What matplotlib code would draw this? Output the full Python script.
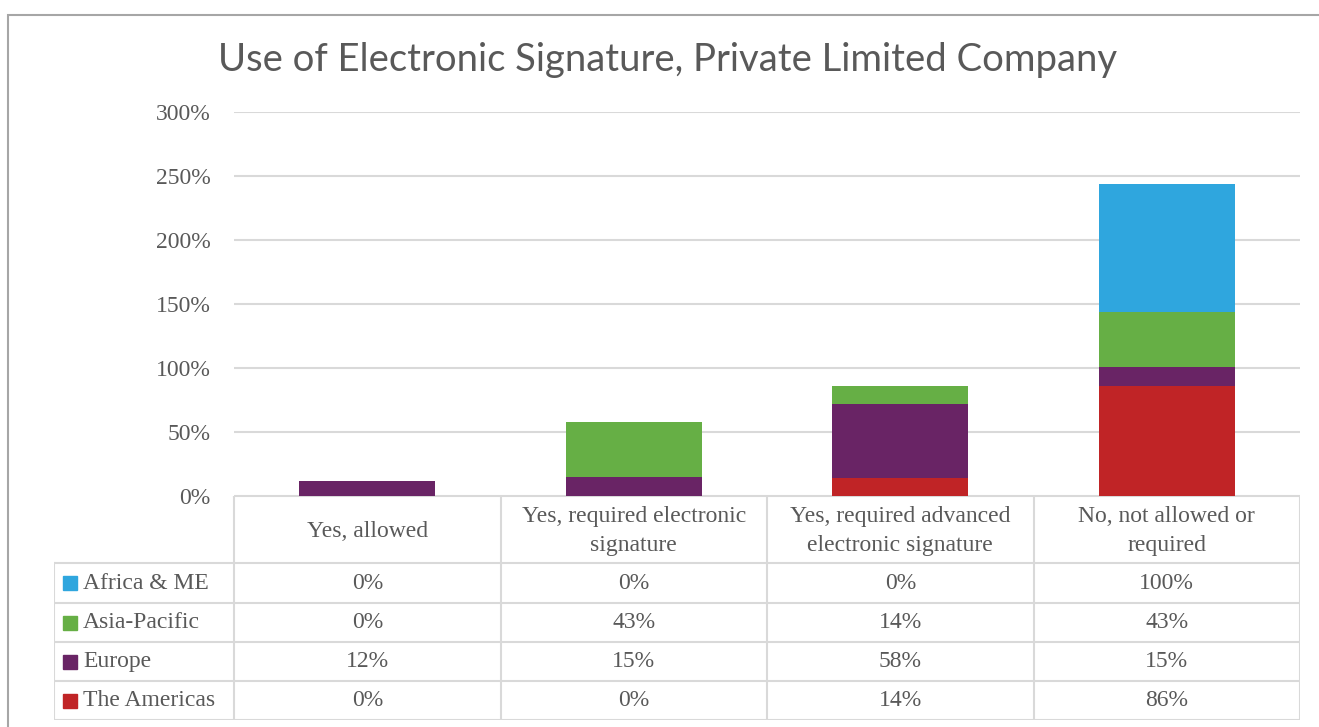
import matplotlib
matplotlib.use('Agg')
import matplotlib.pyplot as plt
from matplotlib.patches import Rectangle
from matplotlib.lines import Line2D
import numpy as np

categories = ['Yes, allowed', 'Yes, required electronic\nsignature',
              'Yes, required advanced\nelectronic signature', 'No, not allowed or\nrequired']
series = ['Africa & ME', 'Asia-Pacific', 'Europe', 'The Americas']
africa = [0, 0, 0, 100]
asia = [0, 43, 14, 43]
europe = [12, 15, 58, 15]
americas = [0, 0, 14, 86]
colors = {'Africa & ME': '#2FA6DE', 'Asia-Pacific': '#66AF45',
          'Europe': '#692465', 'The Americas': '#C02426'}
yticks = [0, 50, 100, 150, 200, 250, 300]

values = {'Africa & ME': africa, 'Asia-Pacific': asia,
          'Europe': europe, 'The Americas': americas}

W, H = 1319, 727
fig = plt.figure(figsize=(W / 100, H / 100), dpi=100)
txt = '#595959'
grid = '#D9D9D9'
serif = 'Liberation Serif'
fs = 17

# outer chart border (image is cropped on right and bottom)
fig.add_artist(Rectangle((8 / W, -0.1), 1.2, (H - 15) / H + 0.1, transform=fig.transFigure,
                         fill=False, edgecolor='#A6A6A6', lw=1.5))

fig.text(668 / W, 1 - 60 / H, 'Use of Electronic Signature, Private Limited Company',
         ha='center', va='center', fontsize=27.5, color=txt, family='Lato')

# main plot
ax = fig.add_axes([234 / W, (H - 496) / H, (1300 - 234) / W, (496 - 112) / H])
x = np.arange(len(categories))
bottom = np.zeros(len(categories))
for s in ['The Americas', 'Europe', 'Asia-Pacific', 'Africa & ME']:
    v = np.array(values[s])
    ax.bar(x, v, 0.51, bottom=bottom, color=colors[s], zorder=3)
    bottom += v
ax.set_xlim(-0.5, 3.5)
ax.set_ylim(0, 300)
ax.set_yticks(yticks)
ax.set_yticklabels([f'{t}%' for t in yticks], family=serif, fontsize=fs, color=txt)
ax.tick_params(axis='y', length=0, pad=17)
ax.set_xticks([])
ax.grid(axis='y', color=grid, lw=1.5, zorder=0)
for sp in ax.spines.values():
    sp.set_visible(False)

# data table
tx = fig.add_axes([54 / W, (H - 720) / H, (1300 - 54) / W, (720 - 496) / H])
left = -0.5 - 180 / 266.5
tx.set_xlim(left, 3.5)
tx.set_ylim(720, 496)
tx.axis('off')
row_edges = [563, 603, 642, 681, 720]
for xb in np.arange(-0.5, 4, 1):
    tx.add_line(Line2D([xb, xb], [496, 720], color=grid, lw=1.5))
tx.add_line(Line2D([left, left], [563, 720], color=grid, lw=1.5))
tx.add_line(Line2D([-0.5, 3.5], [496, 496], color=grid, lw=1.5))
for yb in row_edges:
    tx.add_line(Line2D([left, 3.5], [yb, yb], color=grid, lw=1.5))

for i, c in enumerate(categories):
    tx.text(i, 531, c, ha='center', va='center', fontsize=fs, color=txt,
            family=serif, linespacing=1.5)

for r, s in enumerate(series):
    yc = (row_edges[r] + row_edges[r + 1]) / 2
    tx.add_patch(Rectangle((left + 9 / 266.5, yc - 7), 14 / 266.5, 14, color=colors[s]))
    tx.text(left + 29 / 266.5, yc, s, ha='left', va='center', fontsize=fs,
            color=txt, family=serif)
    for i, v in enumerate(values[s]):
        tx.text(i, yc, f'{v}%', ha='center', va='center', fontsize=fs,
                color=txt, family=serif)

fig.savefig('out.png', dpi=100)
